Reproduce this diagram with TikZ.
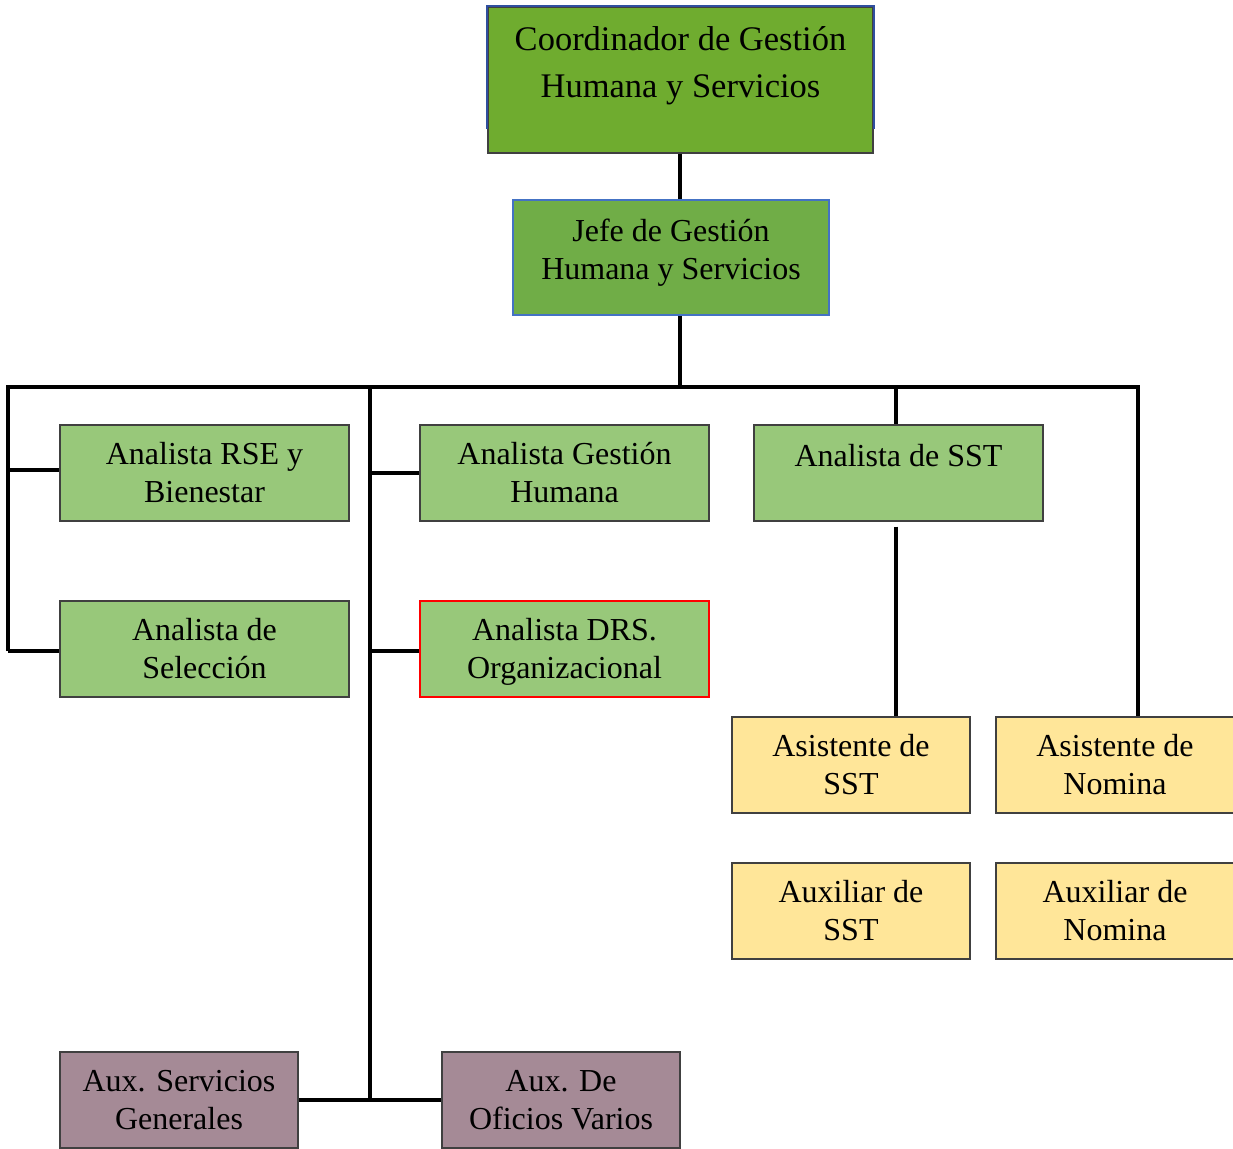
\documentclass[tikz,border=0pt]{standalone}
\usepackage{fontspec}
\setmainfont{Liberation Serif}
\definecolor{coordgreen}{HTML}{6FAC2F}
\definecolor{jefegreen}{HTML}{70AD47}
\definecolor{lightgreen}{HTML}{98C87A}
\definecolor{paleyellow}{HTML}{FFE699}
\definecolor{mauve}{HTML}{A58A96}
\definecolor{boxgray}{HTML}{404040}
\definecolor{jefeblue}{HTML}{4472C4}
\definecolor{coordblue}{HTML}{2F4F9F}
\newcommand\ms{\rule[-8.4pt]{0pt}{38pt}}
\begin{document}
\begin{tikzpicture}[x=1pt,y=-1pt,
  box/.style={draw=boxgray, line width=1.2pt, inner sep=0pt, align=center,
    font=\fontsize{32}{38}\selectfont},
  widebox/.style={box, minimum width=289pt, minimum height=96pt},
  narrowbox/.style={box, minimum width=238pt, minimum height=96pt},
  conn/.style={line width=4pt, line join=miter},
]
\useasboundingbox (0,0) rectangle (1233,1148);

% top boxes
\node[box, fill=coordgreen, minimum width=385pt, minimum height=146pt,
  label={[name=coordtxt, align=center, yshift=15.5pt, font=\fontsize{34.5}{47}\selectfont]center:Coordinador de Gestión\strut\\Humana y Servicios\strut}]
  (coord) at (680.5,80) {};
\draw[coordblue, line width=2pt] ([yshift=25pt]coord.south west) -- (coord.north west) -- (coord.north east) -- ([yshift=25pt]coord.south east);

\node[box, draw=jefeblue, line width=2.5pt, fill=jefegreen, minimum width=316pt, minimum height=115pt,
  label={[name=jefetxt, align=center, yshift=5pt, font=\fontsize{32}{38}\selectfont]center:Jefe de Gestión\strut\\Humana y Servicios\strut}]
  (jefe) at (671,257.5) {};

% analysts
\node[widebox, fill=lightgreen] (rse) at (204.5,473) {Analista RSE y\ms\\Bienestar\ms};
\node[widebox, fill=lightgreen] (agh) at (564.5,473) {Analista Gestión\ms\\Humana\ms};
\node[widebox, fill=lightgreen,
  label={[name=ssttxt, yshift=14pt, font=\fontsize{32}{38}\selectfont]center:Analista de SST\strut}]
  (sst) at (898.5,473) {};
\node[widebox, fill=lightgreen] (sel) at (204.5,649) {Analista de\ms\\Selección\ms};
\node[widebox, draw=red, fill=lightgreen] (drs) at (564.5,649) {Analista DRS.\ms\\Organizacional\ms};

% assistants
\node[narrowbox, fill=paleyellow] (asst) at (851,765) {Asistente de\ms\\SST\ms};
\node[narrowbox, fill=paleyellow] (anom) at (1115,765) {Asistente de\ms\\Nomina\ms};
\node[narrowbox, fill=paleyellow] (xsst) at (851,911) {Auxiliar de\ms\\SST\ms};
\node[narrowbox, fill=paleyellow] (xnom) at (1115,911) {Auxiliar de\ms\\Nomina\ms};

% bottom
\node[narrowbox, fill=mauve] (asg) at (179,1100) {Aux. Servicios\ms\\Generales\ms};
\node[narrowbox, fill=mauve] (aov) at (561,1100) {Aux. De\ms\\Oficios Varios\ms};

% connector points
\coordinate (busL) at (8,387);
\coordinate (busR) at (1138,387);
\coordinate (leftB) at (8,651);
\coordinate (midT) at (370,385);
\coordinate (midB) at (370,1100);
\coordinate (sstline) at (896,387);
\coordinate (trunk) at (680,387);

% connectors
\draw[conn] (trunk |- coord.south) -- (trunk |- jefe.north);
\draw[conn] (trunk |- jefe.south) -- (trunk);
\draw[conn] (leftB) -- (busL) -- (busR) -- (busR |- anom.north);
\draw[conn] (leftB |- 0,470) -- (rse.west |- 0,470);
\draw[conn] (leftB) -- (sel.west |- leftB);
\draw[conn] (midT) -- (midB);
\draw[conn] (midT |- agh.west) -- (agh.west);
\draw[conn] (midT |- 0,651) -- (drs.west |- 0,651);
\draw[conn] (asg.east) -- (aov.west);
\draw[conn] (sstline) -- (sstline |- sst.north);
\draw[conn] ([yshift=-5pt]sstline |- sst.south) -- (sstline |- asst.north);
\end{tikzpicture}
\end{document}
